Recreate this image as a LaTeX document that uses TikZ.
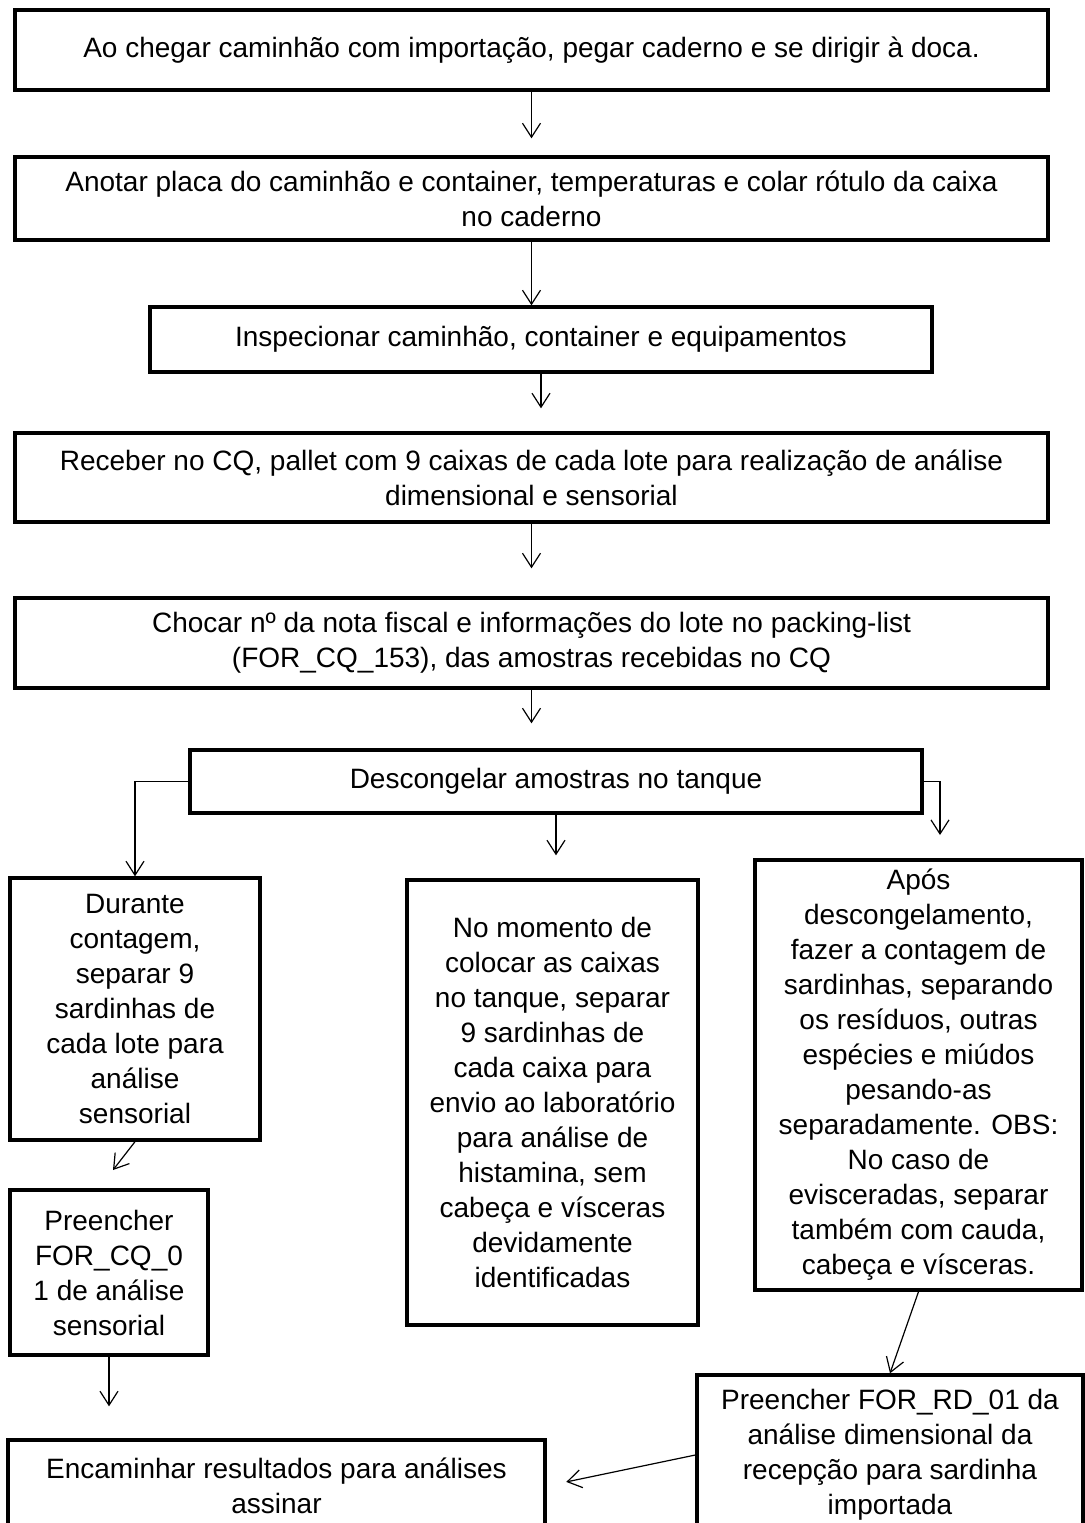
\documentclass[tikz,border=0pt]{standalone}
\usepackage{fontspec}
\setmainfont{Liberation Sans}
\usepackage{tikz}
\usetikzlibrary{arrows, arrows.meta}
\usetikzlibrary{shapes}

\tikzset{caixa/.style={draw=black, line width=1.7pt, rectangle, align=center, inner sep=0pt,
  font=\fontsize{14}{17.5}\selectfont},
  seta/.style={-{Straight Barb[length=7pt, width=9pt, line width=0.6pt]}, line width=0.6pt}}

\begin{document}
\begin{tikzpicture}[x=0.5pt, y=-0.5pt]
\useasboundingbox (0,0) rectangle (1084,1523);
\node (p1)[caixa, minimum width=516.5pt, minimum height=40pt] at (531.5,50) {Ao chegar caminhão com importação, pegar caderno e se dirigir à doca.};
\node (p2)[caixa, minimum width=516.5pt, minimum height=41.5pt] at (531.5,198.5) {Anotar placa do caminhão e container, temperaturas e colar rótulo da caixa\\no caderno};
\node (p3)[caixa, minimum width=391pt, minimum height=32.5pt] at (541,339.5) {Inspecionar caminhão, container e equipamentos};
\node (p4)[caixa, minimum width=516.5pt, minimum height=44.5pt] at (531.5,477.5) {Receber no CQ, pallet com 9 caixas de cada lote para realização de análise\\dimensional e sensorial};
\node (p5)[caixa, minimum width=516.5pt, minimum height=45pt] at (531.5,643) {Chocar nº da nota fiscal e informações do lote no packing-list\\(FOR\_CQ\_153), das amostras recebidas no CQ};
\node (p6)[caixa, minimum width=366pt, minimum height=31.5pt] at (556,781.5) {Descongelar amostras no tanque};
\node (p7)[caixa, minimum width=125pt, minimum height=131pt] at (135,1009) {Durante\\contagem,\\separar 9\\sardinhas de\\cada lote para\\análise\\sensorial};
\node (p8)[caixa, minimum width=145.5pt, minimum height=222.5pt] at (552.5,1102.5) {No momento de\\colocar as caixas\\no tanque, separar\\9 sardinhas de\\cada caixa para\\envio ao laboratório\\para análise de\\histamina, sem\\cabeça e vísceras\\devidamente\\identificadas};
\node (p9)[caixa, minimum width=163.5pt, minimum height=215pt] at (918.5,1075) {Após\\descongelamento,\\fazer a contagem de\\sardinhas, separando\\os resíduos, outras\\espécies e miúdos\\pesando-as\\separadamente. OBS:\\No caso de\\evisceradas, separar\\também com cauda,\\cabeça e vísceras.};
\node (p10)[caixa, minimum width=99pt, minimum height=82.5pt] at (109,1272.5) {Preencher\\FOR\_CQ\_0\\1 de análise\\sensorial};
\node (p11)[caixa, minimum width=268.5pt, minimum height=46pt] at (276.5,1486) {Encaminhar resultados para análises\\assinar};
\node (p12)[caixa, minimum width=193pt, minimum height=80pt] at (890,1455) {Preencher FOR\_RD\_01 da\\análise dimensional da\\recepção para sardinha\\importada};

\coordinate (d9) at (940,860);
\coordinate (d10) at (113,1170);

\draw[seta, shorten >=8.5pt] (p1.south) -- (p1.south |- p2.north);
\draw[seta] (p2.south) -- (p2.south |- p3.north);
\draw[seta, shorten >=11.5pt] (p3.south) -- (p3.south |- p4.north);
\draw[seta, shorten >=14pt] (p4.south) -- (p4.south |- p5.north);
\draw[seta, shorten >=12.5pt] (p5.south) -- (p5.south |- p6.north);
\draw[seta] (p6.west) -| (p7.north);
\draw[seta, shorten >=11.5pt] (p6.south) -- (p6.south |- p8.north);
\draw[seta, shorten >=12.5pt] (p6.east) -| (d9);
\draw[seta] (p7.south) -- (d10);
\draw[seta, shorten >=16pt] (p10.south) -- (p10.south |- p11.north);
\draw[seta] (p9.south) -- (p12.north);
\draw[seta, shorten >=10pt] (p12.west) -- (p11.east);
\end{tikzpicture}
\end{document}
